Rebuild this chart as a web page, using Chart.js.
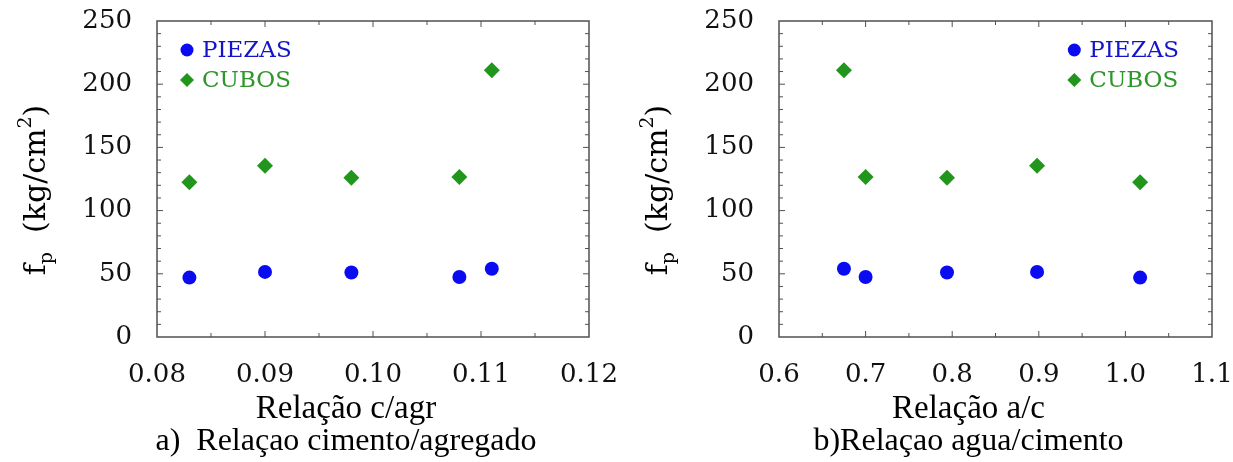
<!DOCTYPE html>
<html>
<head>
<meta charset="utf-8">
<script src="https://cdn.jsdelivr.net/npm/chart.js@4.4.1/dist/chart.umd.min.js"></script>
<style>
  body { margin: 0; background: #fff; }
  #wrap { position: relative; width: 1233px; height: 462px; overflow: hidden; }
  canvas { position: absolute; top: 0; }
  #cA { left: 0; }
  #cB { left: 613px; }
</style>
</head>
<body>
<div id="wrap">
  <canvas id="cA" width="620" height="462"></canvas>
  <canvas id="cB" width="620" height="462"></canvas>
</div>
<script>
// datos
const seriesNames = ['PIEZAS', 'CUBOS'];

const relCAgr = [0.083, 0.090, 0.098, 0.108, 0.111];
const piezasA = [47, 51.5, 51, 47.5, 54];
const cubosA = [122.5, 135.5, 126, 126.5, 211];

const relAC = [0.675, 0.700, 0.794, 0.898, 1.017];
const piezasB = [54, 47.5, 51, 51.5, 47];
const cubosB = [211, 126.5, 126, 135.5, 122.5];

const xTicksA = ['0.08', '0.09', '0.10', '0.11', '0.12'];
const xTicksB = ['0.6', '0.7', '0.8', '0.9', '1.0', '1.1'];
const yTicks = ['0', '50', '100', '150', '200', '250'];

const xTitleA = 'Relação c/agr';
const captionA = 'a)  Relaçao cimento/agregado';
const xTitleB = 'Relação a/c';
const captionB = 'b)Relaçao agua/cimento';
// f_p (kg/cm^2)
const yTitleParts = [['f', 'n'], ['p', 'sub'], ['  (kg/cm', 'n'], ['2', 'sup'], [')', 'n']];

const BLUE = '#0b0bf2';
const GREEN = '#22961c';
const SERIF = 'DejaVu Serif';
const TIMES = 'Liberation Serif';

Chart.defaults.font.family = SERIF;
Chart.defaults.color = '#111';

// marco con marcas hacia dentro
const framePlugin = {
  id: 'frame',
  beforeDatasetsDraw(chart, args, opts) {
    const { ctx, chartArea: a } = chart;
    ctx.save();
    ctx.strokeStyle = '#505050';
    ctx.lineWidth = 1.5;
    ctx.strokeRect(a.left, a.top, a.right - a.left, a.bottom - a.top);
    ctx.lineWidth = 1;
    ctx.beginPath();
    const mark = (scale, horiz, nSub) => {
      const t = scale.ticks;
      const put = (v, len) => {
        const p = scale.getPixelForValue(v);
        if (horiz) {
          ctx.moveTo(p, a.bottom); ctx.lineTo(p, a.bottom - len);
          ctx.moveTo(p, a.top); ctx.lineTo(p, a.top + len);
        } else {
          ctx.moveTo(a.left, p); ctx.lineTo(a.left + len, p);
          ctx.moveTo(a.right, p); ctx.lineTo(a.right - len, p);
        }
      };
      for (let i = 0; i < t.length; i++) {
        if (i > 0 && i < t.length - 1) put(t[i].value, 6);
        if (i < t.length - 1) {
          for (let k = 1; k < nSub; k++) {
            put(t[i].value + (t[i + 1].value - t[i].value) * k / nSub, 4);
          }
        }
      }
    };
    mark(chart.scales.x, true, opts.xSub);
    mark(chart.scales.y, false, opts.ySub);
    ctx.stroke();
    ctx.restore();
  }
};

// leyenda dentro del área
const innerLegend = {
  id: 'innerLegend',
  afterDatasetsDraw(chart, args, opts) {
    const { ctx, chartArea: a } = chart;
    ctx.save();
    ctx.font = '23px "' + SERIF + '"';
    ctx.textBaseline = 'middle';
    const ds = chart.data.datasets;
    const wMax = Math.max(...ds.map(d => ctx.measureText(d.label).width));
    const mx = opts.side === 'left' ? a.left + 30 : a.right - 33 - wMax - 15;
    ds.forEach((d, i) => {
      const y = a.top + 29 + i * 30;
      ctx.fillStyle = d.backgroundColor;
      ctx.beginPath();
      if (d.pointStyle === 'circle') {
        ctx.arc(mx, y, 6.5, 0, Math.PI * 2);
      } else {
        ctx.moveTo(mx, y - 7); ctx.lineTo(mx + 7, y); ctx.lineTo(mx, y + 7); ctx.lineTo(mx - 7, y);
        ctx.closePath();
      }
      ctx.fill();
      ctx.fillStyle = d.textColor;
      ctx.fillText(d.label, mx + 15, y + 1);
    });
    ctx.restore();
  }
};

// títulos de ejes y pie de figura
const titlesPlugin = {
  id: 'titles',
  afterDraw(chart, args, opts) {
    const { ctx, chartArea: a } = chart;
    ctx.save();
    ctx.fillStyle = '#000';
    ctx.textAlign = 'center';
    ctx.textBaseline = 'middle';
    const cx = (a.left + a.right) / 2 - 27;
    ctx.font = '33px "' + TIMES + '"';
    ctx.fillText(opts.xTitle, cx, 409);
    ctx.font = '32px "' + TIMES + '"';
    ctx.fillText(opts.caption, cx, 442);

    // eje y girado
    ctx.translate(a.left - 122, 190);
    ctx.rotate(-Math.PI / 2);
    ctx.textAlign = 'left';
    ctx.textBaseline = 'alphabetic';
    const big = '30px "' + SERIF + '"', small = '19px "' + SERIF + '"';
    let total = 0;
    yTitleParts.forEach(([s, k]) => {
      ctx.font = k === 'n' ? big : small;
      total += ctx.measureText(s).width;
    });
    let x = -total / 2;
    yTitleParts.forEach(([s, k]) => {
      ctx.font = k === 'n' ? big : small;
      const dy = k === 'sub' ? 7 : (k === 'sup' ? -14 : 0);
      ctx.fillText(s, x, 10 + dy);
      x += ctx.measureText(s).width;
    });
    ctx.restore();
  }
};

function makeChart(id, xs, p, c, xLabels, xMin, xMax, xStep, xSub, side, padL, padR, xTitle, caption) {
  return new Chart(document.getElementById(id), {
    type: 'scatter',
    data: {
      datasets: [{
        label: seriesNames[0],
        data: xs.map((x, i) => ({ x: x, y: p[i] })),
        pointStyle: 'circle',
        pointRadius: 7,
        borderWidth: 0,
        backgroundColor: BLUE,
        textColor: '#1414c8'
      }, {
        label: seriesNames[1],
        data: xs.map((x, i) => ({ x: x, y: c[i] })),
        pointStyle: 'rectRot',
        pointRadius: 8,
        borderWidth: 0,
        backgroundColor: GREEN,
        textColor: '#2e962a'
      }]
    },
    options: {
      responsive: false,
      animation: false,
      devicePixelRatio: 1,
      layout: { padding: { left: 0, right: padR, top: 21, bottom: 0 } },
      plugins: {
        legend: { display: false },
        tooltip: { enabled: false },
        frame: { xSub: xSub, ySub: 5 },
        innerLegend: { side: side },
        titles: { xTitle: xTitle, caption: caption }
      },
      scales: {
        x: {
          type: 'linear',
          min: xMin, max: xMax,
          grid: { display: false, drawTicks: false },
          border: { display: false },
          ticks: {
            stepSize: xStep,
            padding: 23,
            maxRotation: 0,
            font: { size: 26 },
            callback: (v, i) => xLabels[i]
          },
          afterFit: s => { s.height = 462 - 337; s.paddingLeft = 0; s.paddingRight = 0; }
        },
        y: {
          min: 0, max: 250,
          grid: { display: false, drawTicks: false },
          border: { display: false },
          ticks: {
            stepSize: 50,
            padding: 25,
            font: { size: 26 },
            callback: (v, i) => yTicks[i]
          },
          afterFit: s => { s.width = padL; s.paddingTop = 0; s.paddingBottom = 0; }
        }
      }
    },
    plugins: [framePlugin, innerLegend, titlesPlugin]
  });
}

makeChart('cA', relCAgr, piezasA, cubosA, xTicksA, 0.08, 0.12, 0.01, 2, 'left', 157, 31, xTitleA, captionA);
makeChart('cB', relAC, piezasB, cubosB, xTicksB, 0.6, 1.1, 0.1, 2, 'right', 166, 21, xTitleB, captionB);
</script>
</body>
</html>
